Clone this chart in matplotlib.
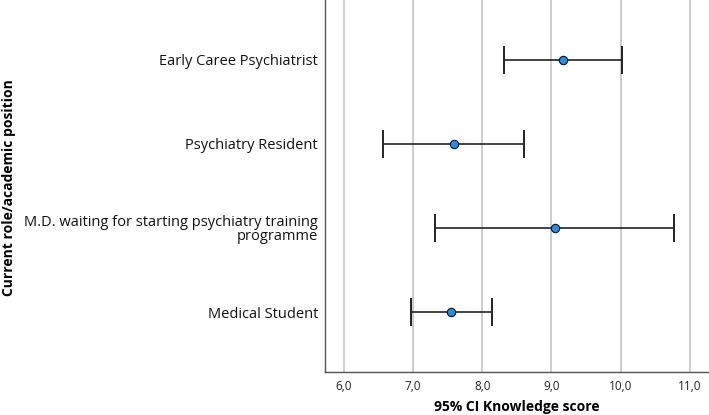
import matplotlib
matplotlib.use("Agg")
import matplotlib.pyplot as plt
from matplotlib.ticker import FuncFormatter

categories = ["Medical Student",
              "M.D. waiting for starting psychiatry training\nprogramme",
              "Psychiatry Resident",
              "Early Caree Psychiatrist"]
means = [7.55, 9.05, 7.59, 9.17]
lower = [6.97, 7.31, 6.57, 8.32]
upper = [8.14, 10.77, 8.60, 10.02]
xticks = [6, 7, 8, 9, 10, 11]

plt.rcParams['font.family'] = ['Open Sans', 'DejaVu Sans']

fig = plt.figure(figsize=(7.09, 4.15), dpi=100)
ax = fig.add_axes([0.4584, 0.1036, 0.5402, 0.8964])

ypos = list(range(len(categories)))
err_lo = [m - l for m, l in zip(means, lower)]
err_hi = [u - m for m, u in zip(means, upper)]
ax.errorbar(means, ypos, xerr=[err_lo, err_hi], fmt='none', ecolor='#222222',
            elinewidth=1.2, capsize=10, capthick=1.4, zorder=3)
ax.scatter(means, ypos, s=36, color='#1e90e8', edgecolor='#111111',
           linewidth=0.8, zorder=4)

ax.set_xlim(5.725, 11.265)
ax.set_ylim(-0.714, 3.714)
ax.set_xticks(xticks)
ax.xaxis.set_major_formatter(FuncFormatter(lambda v, p: f"{v:.1f}".replace('.', ',')))
ax.set_yticks(ypos)
ax.set_yticklabels(categories, fontsize=10.5, color='#111111', linespacing=0.95)
ax.tick_params(axis='x', length=0, labelsize=8.5, pad=6, colors='#222222')
ax.tick_params(axis='y', length=0, pad=5)
ax.grid(axis='x', color='#c4c4c4', linewidth=1.2, zorder=0)
ax.set_axisbelow(True)

for s in ['top', 'right']:
    ax.spines[s].set_visible(False)
for s in ['left', 'bottom']:
    ax.spines[s].set_color('#555555')
    ax.spines[s].set_linewidth(1.0)

fig.text(0.729, 0.019, "95% CI Knowledge score", fontsize=10, fontweight='bold',
         ha='center', va='center')
fig.text(0.012, 0.549, "Current role/academic position", rotation=90,
         fontsize=10, fontweight='bold', ha='center', va='center')

fig.savefig("out.png", dpi=100)
